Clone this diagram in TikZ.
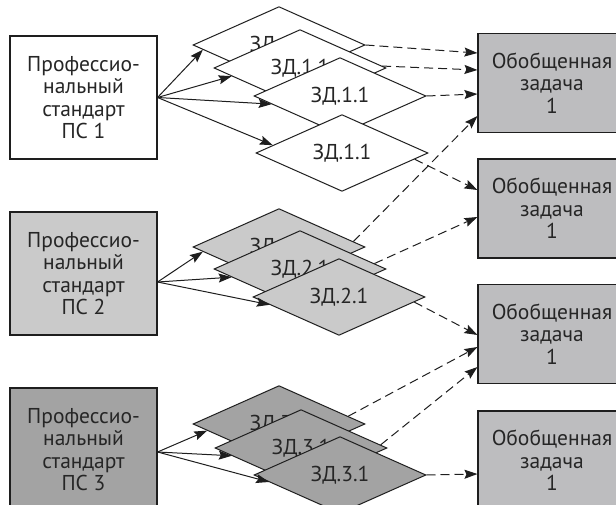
\documentclass[tikz,border=0pt]{standalone}
\usepackage{fontspec}
\setmainfont{PT Sans}
\usetikzlibrary{shapes.geometric,arrows.meta,calc}
\definecolor{txt}{HTML}{262626}
\definecolor{lgray}{HTML}{CACACA}
\definecolor{dgray}{HTML}{A3A3A3}
\definecolor{rgray}{HTML}{BDBDBF}
\definecolor{ln}{HTML}{1E1E1E}
\begin{document}
\begin{tikzpicture}[x=1pt,y=-1pt,
  lbox/.style={draw=ln, line width=1.1pt, minimum width=147pt, minimum height=123pt, align=center,
    font=\fontsize{21.5}{22.5}\selectfont, text=txt, inner sep=0pt},
  rbox/.style={lbox, fill=rgray, minimum width=148pt, minimum height=99pt},
  dia/.style={draw=ln, line width=1pt, shape=diamond, minimum width=172pt, minimum height=71pt,
    inner sep=0pt, font=\fontsize{21.5}{22.5}\selectfont, text=txt},
  arr/.style={draw=ln, line width=1pt, -{Stealth[length=13pt,width=9pt,inset=2pt]}},
  darr/.style={arr, dash pattern=on 9pt off 5pt}]
\useasboundingbox (0,0) rectangle (616,505);
\clip (0,0) rectangle (616,505);

% left boxes
\node[lbox, fill=white] (P1) at (83.5,97.5) {Профессио-\\нальный\\стандарт\\ПС 1};
\node[lbox, fill=lgray] (P2) at (83.5,273.5) {Профессио-\\нальный\\стандарт\\ПС 2};
\node[lbox, fill=dgray] (P3) at (83.5,449.5) {Профессио-\\нальный\\стандарт\\ПС 3};

% right boxes
\node[rbox] (R1) at (552,83) {Обобщенная\\задача\\1};
\node[rbox] (R2) at (552,208.5) {Обобщенная\\задача\\1};
\node[rbox] (R3) at (552,334) {Обобщенная\\задача\\1};
\node[rbox] (R4) at (552,460.5) {Обобщенная\\задача\\1};

% diamonds group 1
\node[dia, fill=white] (A1) at (279,45) {ЗД.1.1};
\node[dia, fill=white] (A2) at (300,68) {ЗД.1.1};
\node[dia, fill=white] (A3) at (340,96) {ЗД.1.1};
\node[dia, fill=white] (A4) at (342,153) {ЗД.1.1};
% group 2
\node[dia, fill=lgray] (B1) at (279,247) {ЗД.2.1};
\node[dia, fill=lgray] (B2) at (300,269) {ЗД.2.1};
\node[dia, fill=lgray] (B3) at (339,297) {ЗД.2.1};
% group 3
\node[dia, fill=dgray] (C1) at (279,424) {ЗД.3.1};
\node[dia, fill=dgray] (C2) at (301,448) {ЗД.3.1};
\node[dia, fill=dgray] (C3) at (340,475) {ЗД.3.1};

% solid arrows
\draw[arr] (P1.east) -- ($(A1.west)!0.12!(A1.south)$);
\draw[arr] (P1.east) -- ($(A2.west)!0.21!(A2.south)$);
\draw[arr] (P1.east) -- ($(A3.west)!0.21!(A3.south)$);
\draw[arr] (P1.east) -- ($(A4.west)!0.2!(A4.north)$);

\coordinate (P2o) at ([yshift=-8.5pt]P2.east);
\draw[arr] (P2o) -- ($(B1.west)!0.12!(B1.south)$);
\draw[arr] (P2o) -- ($(B2.west)!0.21!(B2.south)$);
\draw[arr] (P2o) -- ($(B3.west)!0.2!(B3.south)$);

\coordinate (P3o) at ([yshift=-2.5pt]P3.east);
\draw[arr] (P3o) -- ($(C1.west)!0.17!(C1.south)$);
\draw[arr] (P3o) -- ($(C2.west)!0.2!(C2.south)$);
\draw[arr] (P3o) -- ($(C3.west)!0.18!(C3.south)$);

% dashed arrows
\draw[darr] (A1.east) -- ([yshift=30pt]R1.west);
\draw[darr] ($(A2.east)!0.05!(A2.north)$) -- ([yshift=13pt]R1.west);
\draw[darr] (A3.east) -- ([yshift=-11pt]R1.west);
\draw[darr] ($(A4.east)!0.16!(A4.south)$) -- ([yshift=18.5pt]R2.west);
\draw[darr] ($(B1.east)!0.14!(B1.north)$) -- ([yshift=-33pt]R1.west);
\draw[darr] ($(B2.east)!0.14!(B2.north)$) -- ([yshift=-8.5pt]R2.west);
\draw[darr] ($(B3.east)!0.13!(B3.south)$) -- ([yshift=-1pt]R3.west);
\draw[darr] ($(C1.east)!0.2!(C1.north)$) -- ([yshift=-13pt]R3.west);
\draw[darr] ($(C2.east)!0.08!(C2.north)$) -- ([yshift=-33pt]R3.west);
\draw[darr] (C3.east) -- ([yshift=-13.5pt]R4.west);
\end{tikzpicture}
\end{document}
